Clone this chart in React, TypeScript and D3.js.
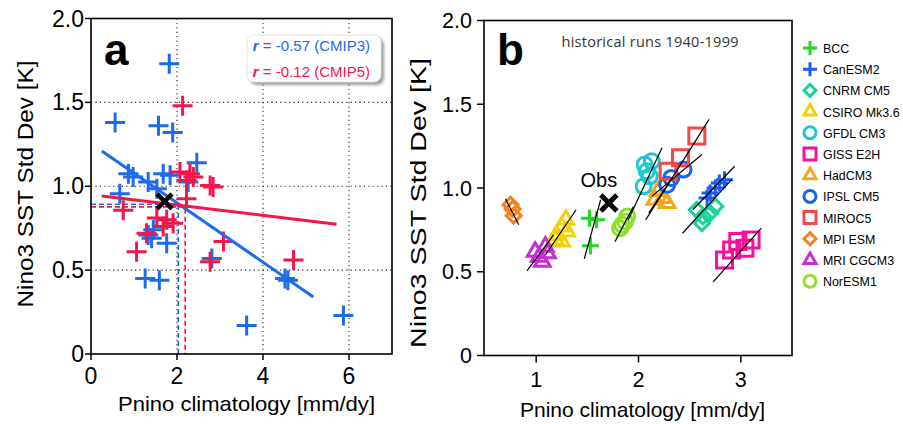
import * as d3 from 'd3';

// panel a: CMIP3 (blue) and CMIP5 (red) models
const cmip3X = [1.82, 0.56, 1.57, 1.9, 2.46, 0.87, 0.98, 1.33, 1.68, 1.84, 2.26, 0.67, 1.53, 1.45, 1.41, 1.76, 2.81, 1.26, 1.59, 4.51, 4.58, 3.62, 5.87, 1.33];
const cmip3Y = [1.73, 1.38, 1.36, 1.32, 1.14, 1.075, 1.055, 1.025, 1.075, 1.065, 1.025, 0.956, 0.985, 0.74, 0.69, 0.66, 0.57, 0.45, 0.44, 0.45, 0.44, 0.17, 0.23, 0.71];
const cmip5X = [2.13, 2.07, 2.3, 2.38, 2.22, 2.77, 2.84, 2.22, 0.75, 1.53, 1.76, 1.91, 1.68, 1.29, 3.08, 1.06, 2.77, 4.71];
const cmip5Y = [1.48, 1.085, 1.075, 1.055, 1.035, 1.005, 0.996, 0.926, 0.857, 0.81, 0.8, 0.78, 0.76, 0.72, 0.67, 0.61, 0.55, 0.56];

const fit3X = [0.25, 5.17];
const fit3Y = [1.21, 0.34];
const fit5X = [0.25, 5.71];
const fit5Y = [0.942, 0.774];

// where each fit meets the observed value
const constrainedX = [2.03, 2.19];
const constrainedY = [0.893, 0.877];

const obsX = 1.71;
const obsY = 0.91;

const corrLabels = ['-0.57 (CMIP3)', '-0.12 (CMIP5)'];

const xTicksA = [0, 2, 4, 6];
const xTicksB = [1, 2, 3];
const yTicks = [0, 0.5, 1, 1.5, 2];
const yTickLabels = ['0', '0.5', '1.0', '1.5', '2.0'];

// panel b: CMIP5 historical ensembles
const modelNames = ['BCC', 'CanESM2', 'CNRM CM5', 'CSIRO Mk3.6', 'GFDL CM3', 'GISS E2H', 'HadCM3', 'IPSL CM5', 'MIROC5', 'MPI ESM', 'MRI CGCM3', 'NorESM1'];
const modelColors = ['#1fd81f', '#1a5cf5', '#19d39a', '#f2d10c', '#1ec8d2', '#f5109b', '#f9a61e', '#1565f0', '#f24848', '#f5821c', '#c42ed6', '#8fe02a'];
const modelShapes = ['plus', 'plus', 'diamond', 'triangle', 'circle', 'square', 'triangle', 'circle', 'square', 'diamond', 'triangle', 'circle'];

const memberX = [
  [1.52, 1.59, 1.53],
  [2.67, 2.7, 2.75, 2.79, 2.84],
  [2.57, 2.62, 2.63, 2.7, 2.75],
  [1.19, 1.2, 1.25, 1.25, 1.29, 1.3],
  [2.05, 2.06, 2.08, 2.11, 2.13],
  [2.84, 2.91, 2.97, 3.04, 3.1],
  [2.16, 2.19, 2.24, 2.28],
  [2.28, 2.32, 2.44],
  [2.29, 2.41, 2.57],
  [0.75, 0.77, 0.78],
  [0.99, 1.03, 1.06, 1.09, 1.11],
  [1.82, 1.84, 1.87, 1.89],
];
const memberY = [
  [0.82, 0.81, 0.655],
  [0.94, 0.97, 1.0, 1.03, 1.05],
  [0.87, 0.79, 0.83, 0.85, 0.89],
  [0.69, 0.72, 0.68, 0.77, 0.81, 0.74],
  [1.01, 1.14, 1.1, 1.07, 1.16],
  [0.57, 0.63, 0.68, 0.64, 0.69],
  [0.93, 0.98, 0.94, 0.91],
  [1.02, 1.06, 1.11],
  [1.1, 1.18, 1.31],
  [0.9, 0.875, 0.835],
  [0.62, 0.59, 0.56, 0.65, 0.61],
  [0.76, 0.78, 0.8, 0.83],
];
const modelFitX = [
  [1.47, 1.63], [2.53, 2.94], [2.43, 2.91], [1.09, 1.39], [1.9, 2.23], [2.73, 3.2],
  [2.1, 2.33], [2.13, 2.62], [2.07, 2.69], [0.7, 0.83], [0.91, 1.17], [1.77, 1.95],
];
const modelFitY = [
  [0.577, 0.93], [0.87, 1.13], [0.73, 1.05], [0.6, 0.87], [0.81, 1.24], [0.44, 0.76],
  [0.85, 1.06], [0.95, 1.2], [0.81, 1.41], [0.935, 0.78], [0.505, 0.72], [0.68, 0.89],
];

const BLUE = '#1c6bea';
const RED = '#f4164b';
const FONT = '"Liberation Sans", Arial, sans-serif';

const xA = d3.scaleLinear().domain([0, 7]).range([91, 392]);
const yA = d3.scaleLinear().domain([0, 2]).range([354, 18.5]);
const xB = d3.scaleLinear().domain([0.49, 3.5]).range([484, 792]);
const yB = d3.scaleLinear().domain([0, 2]).range([355.5, 20.5]);

const symbolTypes: Record<string, any> = {
  plus: d3.symbolPlus,
  diamond: d3.symbolDiamond2,
  triangle: d3.symbolTriangle2,
  circle: d3.symbolCircle,
  square: d3.symbolSquare2,
  times: d3.symbolTimes,
};

// convert a half-width in px to the area d3.symbol wants
const symbolPath = (shape: string, r: number) => {
  let size = Math.PI * r * r;
  if (shape === 'plus') size = (r / 0.87559) ** 2 + 2;
  if (shape === 'times') size = (r / 0.6189) ** 2 + 1.7;
  if (shape === 'square') size = (r / 0.4431) ** 2;
  if (shape === 'diamond') size = (r / 0.62625) ** 2;
  if (shape === 'triangle') size = (r / 0.6824) ** 2;
  return d3.symbol().type(symbolTypes[shape]).size(size)() as string;
};

const markerR: Record<string, number> = { plus: 8.5, diamond: 7.5, triangle: 9, circle: 7.5, square: 8 };
const legendR: Record<string, number> = { plus: 7, diamond: 6, triangle: 7, circle: 6, square: 6 };

const line = d3.line<[number, number]>();

const Frame = ({ x, y }: { x: any; y: any }) => (
  <rect
    x={x.range()[0]}
    y={y.range()[1]}
    width={x.range()[1] - x.range()[0]}
    height={y.range()[0] - y.range()[1]}
    fill="none"
    stroke="#000"
    strokeWidth={1.6}
  />
);

const PanelA = () => {
  const plus = symbolPath('plus', 10);
  const times = symbolPath('times', 7.5);
  return (
    <g>
      <defs>
        <filter id="shadow" x="-20%" y="-20%" width="150%" height="160%">
          <feGaussianBlur stdDeviation="1.5" />
        </filter>
      </defs>
      {/* grid */}
      {xTicksA.slice(1).map((t) => (
        <line key={'gx' + t} x1={xA(t)} x2={xA(t)} y1={yA(2)} y2={yA(0)} stroke="#222" strokeWidth={1.1} strokeDasharray="1.2,3.2" />
      ))}
      {yTicks.slice(1, 4).map((t) => (
        <line key={'gy' + t} x1={xA(0)} x2={xA(7)} y1={yA(t)} y2={yA(t)} stroke="#222" strokeWidth={1.1} strokeDasharray="1.2,3.2" />
      ))}
      {/* correlation box */}
      <rect x={250} y={38} width={134} height={47} rx={7} fill="#9a9a9a" filter="url(#shadow)" />
      <rect x={247} y={35} width={134} height={47} rx={7} fill="#fff" stroke="#e2e2e2" strokeWidth={1} />
      {corrLabels.map((s, i) => (
        <text key={s} x={370} y={51 + i * 26} textAnchor="end" fontFamily={FONT} fontSize={15} fill={i === 0 ? BLUE : RED}>
          <tspan fontWeight="bold" fontStyle="italic">r</tspan>
          {' = ' + s}
        </text>
      ))}
      {/* constrained dashed lines */}
      {constrainedX.map((cx, i) => (
        <path
          key={'d' + i}
          d={line([[xA(0), yA(constrainedY[i])], [xA(cx), yA(constrainedY[i])], [xA(cx), yA(0)]]) as string}
          fill="none"
          stroke={i === 0 ? BLUE : RED}
          strokeWidth={1.6}
          strokeDasharray="5,3"
        />
      ))}
      {cmip3X.map((v, i) => (
        <path key={'b' + i} d={plus} transform={`translate(${xA(v)},${yA(cmip3Y[i])})`} fill="none" stroke={BLUE} strokeWidth={3} />
      ))}
      {cmip5X.map((v, i) => (
        <path key={'r' + i} d={plus} transform={`translate(${xA(v)},${yA(cmip5Y[i])})`} fill="none" stroke={RED} strokeWidth={3} />
      ))}
      <path d={line([[xA(fit3X[0]), yA(fit3Y[0])], [xA(fit3X[1]), yA(fit3Y[1])]]) as string} stroke={BLUE} strokeWidth={3} />
      <path d={line([[xA(fit5X[0]), yA(fit5Y[0])], [xA(fit5X[1]), yA(fit5Y[1])]]) as string} stroke={RED} strokeWidth={3} />
      <path d={times} transform={`translate(${xA(obsX)},${yA(obsY)})`} fill="none" stroke="#000" strokeWidth={4.5} />
      <Frame x={xA} y={yA} />
      {yTicks.map((t, i) => (
        <g key={'ya' + t}>
          <line x1={xA(0) - 6} x2={xA(0)} y1={yA(t)} y2={yA(t)} stroke="#000" strokeWidth={1.5} />
          <text x={xA(0) - 7} y={yA(t) + 8} textAnchor="end" fontFamily={FONT} fontSize={23}>{yTickLabels[i]}</text>
        </g>
      ))}
      {xTicksA.map((t) => (
        <g key={'xa' + t}>
          <line x1={xA(t)} x2={xA(t)} y1={yA(0)} y2={yA(0) + 6} stroke="#000" strokeWidth={1.5} />
          <text x={xA(t)} y={384} textAnchor="middle" fontFamily={FONT} fontSize={23}>{t}</text>
        </g>
      ))}
      <text transform="translate(33,184) rotate(-90)" textAnchor="middle" fontFamily={FONT} fontSize={22} textLength={247} lengthAdjust="spacingAndGlyphs">
        Nino3 SST Std Dev [K]
      </text>
      <text x={246.5} y={411} textAnchor="middle" fontFamily={FONT} fontSize={21} textLength={257} lengthAdjust="spacingAndGlyphs">
        Pnino climatology [mm/dy]
      </text>
      <text x={104} y={65} fontFamily={FONT} fontSize={44} fontWeight="bold">a</text>
    </g>
  );
};

const PanelB = () => {
  const times = symbolPath('times', 8);
  return (
    <g>
      {modelNames.map((name, m) => {
        const d = symbolPath(modelShapes[m], markerR[modelShapes[m]]);
        return memberX[m].map((v, i) => (
          <path key={name + i} d={d} transform={`translate(${xB(v)},${yB(memberY[m][i])})`} fill="none" stroke={modelColors[m]} strokeWidth={3} />
        ));
      })}
      {modelNames.map((name, m) => (
        <path
          key={'fit' + name}
          d={line([[xB(modelFitX[m][0]), yB(modelFitY[m][0])], [xB(modelFitX[m][1]), yB(modelFitY[m][1])]]) as string}
          stroke="#000"
          strokeWidth={1.2}
        />
      ))}
      <path d={times} transform={`translate(${xB(obsX)},${yB(obsY)})`} fill="none" stroke="#000" strokeWidth={5} />
      <text x={xB(obsX) - 10} y={yB(obsY) - 16} textAnchor="middle" fontFamily={FONT} fontSize={20}>Obs</text>
      <Frame x={xB} y={yB} />
      {yTicks.map((t, i) => (
        <g key={'yb' + t}>
          <line x1={xB.range()[0] - 7} x2={xB.range()[0]} y1={yB(t)} y2={yB(t)} stroke="#000" strokeWidth={1.5} />
          <text x={472} y={yB(t) + 7.5} textAnchor="end" fontFamily={FONT} fontSize={21.5}>{yTickLabels[i]}</text>
        </g>
      ))}
      {xTicksB.map((t) => (
        <g key={'xb' + t}>
          <line x1={xB(t)} x2={xB(t)} y1={yB(0)} y2={yB(0) + 7} stroke="#000" strokeWidth={1.5} />
          <text x={xB(t)} y={387} textAnchor="middle" fontFamily={FONT} fontSize={21.5}>{t}</text>
        </g>
      ))}
      <text transform="translate(426,203) rotate(-90)" textAnchor="middle" fontFamily={FONT} fontSize={22} textLength={290} lengthAdjust="spacingAndGlyphs">
        Nino3 SST Std Dev [K]
      </text>
      <text x={642.5} y={417} textAnchor="middle" fontFamily={FONT} fontSize={21} textLength={245} lengthAdjust="spacingAndGlyphs">
        Pnino climatology [mm/dy]
      </text>
      <text x={497} y={65} fontFamily={FONT} fontSize={44} fontWeight="bold">b</text>
      <text x={650} y={47} textAnchor="middle" fontFamily='"Open Sans", sans-serif' fontSize={14.5} fill="#333" textLength={177}>
        historical runs 1940-1999
      </text>
      {/* legend */}
      {modelNames.map((name, m) => (
        <g key={'lg' + name} transform={`translate(810,${48 + m * 21.2})`}>
          <path d={symbolPath(modelShapes[m], legendR[modelShapes[m]])} fill="none" stroke={modelColors[m]} strokeWidth={3} />
          <text transform="translate(13,5) scale(0.92,1)" fontFamily={FONT} fontSize={13.5}>{name}</text>
        </g>
      ))}
    </g>
  );
};

export default function App() {
  return (
    <svg width={903} height={424} style={{ position: 'absolute', left: 0, top: 0, background: '#fff' }}>
      <rect width={903} height={424} fill="#fff" />
      <PanelA />
      <PanelB />
    </svg>
  );
}
